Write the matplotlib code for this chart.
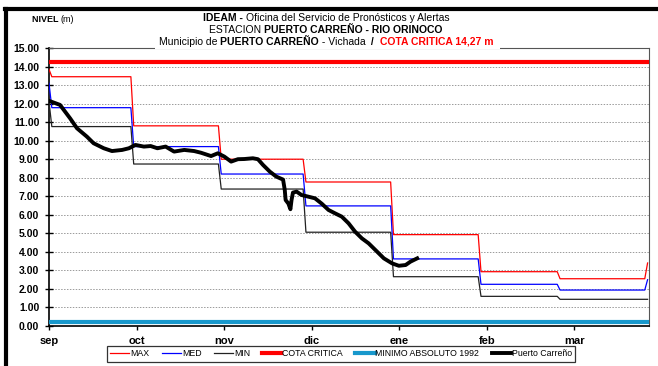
import matplotlib
matplotlib.use("Agg")
import matplotlib.pyplot as plt
from matplotlib.lines import Line2D
from matplotlib.patches import Rectangle
from matplotlib.offsetbox import TextArea, HPacker, AnnotationBbox

plt.rcParams['font.family'] = ['Liberation Sans', 'DejaVu Sans']

# dia 0 = 1 de septiembre
month_labels = ['sep', 'oct', 'nov', 'dic', 'ene', 'feb', 'mar']
month_ticks = [0, 31, 62, 93, 124, 155, 186]
month_starts = [0, 30, 61, 91, 122, 153, 181]
last_day = 212

# niveles mensuales historicos (m)
max_first, max_last = 13.85, 3.4
max_month = [13.45, 10.8, 9.0, 7.77, 4.93, 2.93, 2.55]
med_first, med_last = 13.1, 2.5
med_month = [11.78, 9.68, 8.2, 6.48, 3.62, 2.25, 1.94]
min_first, min_last = 12.1, 1.44
min_month = [10.76, 8.74, 7.39, 5.06, 2.66, 1.6, 1.44]

cota_critica = 14.27
minimo_1992 = 0.22

# lecturas Puerto Carreño
pc_day = [0, 3.9, 7.5, 9.9, 13.4, 15.8, 19.4, 22.3, 25.9, 28.3, 30.6, 33.6, 36, 38.4,
          41.3, 44.3, 47.9, 51.4, 53.8, 57.4, 59.8, 62.1, 64.5, 66.9, 69.2, 72.2, 74,
          75.8, 78.2, 80.5, 82.9, 83.5, 83.8, 84.8, 85.5, 85.9, 86.4, 87.7, 89.4, 91.8,
          94.2, 96.6, 99, 101.3, 103.7, 106.1, 108.4, 110.8, 113.2, 115.6, 118.6, 121.5,
          123.9, 126.3, 128, 130.4]
pc_level = [12.15, 11.93, 11.2, 10.67, 10.22, 9.86, 9.59, 9.44, 9.5, 9.59, 9.77, 9.68,
            9.71, 9.59, 9.68, 9.41, 9.5, 9.44, 9.35, 9.17, 9.32, 9.14, 8.87, 9.0, 9.01,
            9.05, 9.0, 8.69, 8.33, 8.06, 7.9, 7.34, 6.8, 6.6, 6.3, 6.8, 7.2, 7.25, 7.07,
            6.98, 6.89, 6.6, 6.26, 6.08, 5.9, 5.54, 5.09, 4.73, 4.46, 4.1, 3.65, 3.38,
            3.25, 3.29, 3.47, 3.65]


def monthly_steps(first, values, last):
    xs, ys = [0], [first]
    ends = month_starts[1:] + [last_day]
    for i, v in enumerate(values):
        start = 1 if i == 0 else month_starts[i]
        xs += [start, ends[i] - 1]
        ys += [v, v]
    xs.append(last_day)
    ys.append(last)
    return xs, ys


fig = plt.figure(figsize=(6.58, 3.66), dpi=100)
ax = fig.add_axes([49 / 658, 1 - 326 / 366, 600 / 658, 278 / 366])

for y in range(1, 16):
    ax.axhline(y, color='#9a9a9a', lw=0.7, ls=(0, (1.5, 1.5)), zorder=1)

x, y = monthly_steps(max_first, max_month, max_last)
ax.plot(x, y, color='#ff0000', lw=0.9, label='MAX', zorder=3)
x, y = monthly_steps(med_first, med_month, med_last)
ax.plot(x, y, color='#0000ff', lw=0.9, label='MED', zorder=3)
x, y = monthly_steps(min_first, min_month, min_last)
ax.plot(x, y, color='#222222', lw=0.9, label='MIN', zorder=3)
ax.axhline(cota_critica, color='#ff0000', lw=3, label='COTA CRITICA', zorder=4)
ax.axhline(minimo_1992, color='#1898cc', lw=3, label='MINIMO ABSOLUTO 1992', zorder=4)
ax.plot(pc_day, pc_level, color='black', lw=2.8, solid_joinstyle='round',
        label='Puerto Carreño', zorder=5)

ax.set_xlim(0, 212.5)
ax.set_ylim(0, 15)
ax.set_yticks(range(0, 16))
ax.set_yticklabels([f'{v:.2f}' for v in range(0, 16)], fontsize=7.5, fontweight='bold')
ax.set_xticks(month_ticks)
ax.set_xticklabels(month_labels, fontsize=8, fontweight='bold')
ax.tick_params(axis='y', direction='inout', length=6, width=1, pad=4)
ax.tick_params(axis='x', direction='out', length=3, width=1, pad=4)

for side in ('left', 'bottom'):
    ax.spines[side].set_color('black')
    ax.spines[side].set_linewidth(1.2)
for side in ('top', 'right'):
    ax.spines[side].set_color('#555555')
    ax.spines[side].set_linewidth(0.8)

leg = fig.legend(loc='center', bbox_to_anchor=(341 / 658, 1 - 354 / 366), ncol=6,
                 fontsize=6.3, frameon=True, fancybox=False, edgecolor='black',
                 handlelength=2.2, handletextpad=0.1, columnspacing=1.4,
                 borderpad=0.35, borderaxespad=0)
leg.get_frame().set_linewidth(0.9)

# marco exterior
fig.add_artist(Line2D([5 / 658, 1], [1 - 9 / 366] * 2, color='black', lw=3))
fig.add_artist(Line2D([6 / 658] * 2, [0, 1 - 9 / 366], color='black', lw=3))

# fondo blanco del titulo sobre el borde superior del grafico
fig.add_artist(Rectangle((155 / 658, 1 - 48.5 / 366), 345 / 658, 37 / 366,
                         transform=fig.transFigure, facecolor='white',
                         edgecolor='none', zorder=5))


def title_line(parts, yc, size=7.5):
    boxes = [TextArea(t, textprops=dict(fontsize=size, fontweight=w, color=c))
             for t, w, c in parts]
    pack = HPacker(children=boxes, pad=0, sep=0, align='baseline')
    ab = AnnotationBbox(pack, (326 / 658, 1 - yc / 366), xycoords='figure fraction',
                        frameon=False, box_alignment=(0.5, 0.5), pad=0, zorder=6)
    fig.add_artist(ab)


title_line([('IDEAM - ', 'bold', 'black'),
            ('Oficina del Servicio de Pronósticos y Alertas', 'normal', 'black')], 18)
title_line([('ESTACION ', 'normal', 'black'),
            ('PUERTO CARREÑO - RIO ORINOCO', 'bold', 'black')], 30)
title_line([('Municipio de ', 'normal', 'black'),
            ('PUERTO CARREÑO', 'bold', 'black'),
            (' - Vichada ', 'normal', 'black'),
            (' /  ', 'bold', 'black'),
            ('COTA CRITICA 14,27 m', 'bold', '#ff0000')], 42)

nivel = HPacker(children=[TextArea('NIVEL ', textprops=dict(fontsize=6.5, fontweight='bold')),
                          TextArea('(m)', textprops=dict(fontsize=6.5))],
                pad=0, sep=0, align='baseline')
fig.add_artist(AnnotationBbox(nivel, (32 / 658, 1 - 19 / 366), xycoords='figure fraction',
                              frameon=False, box_alignment=(0, 0.5), pad=0))

fig.savefig('out.png', dpi=100)
